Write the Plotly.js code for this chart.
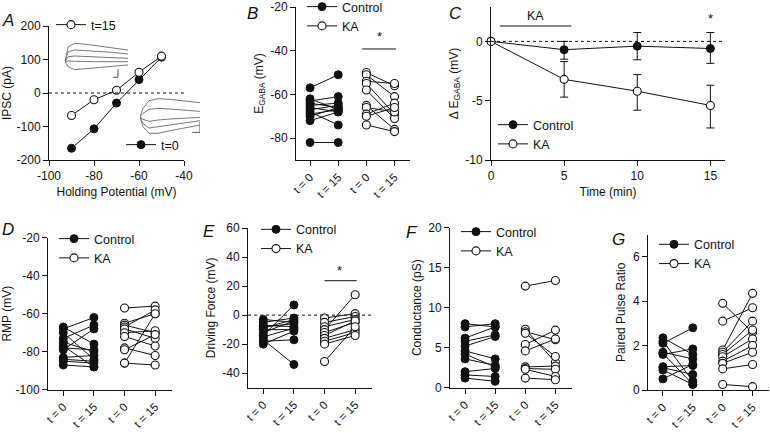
<!DOCTYPE html>
<html><head><meta charset="utf-8">
<script src="https://cdn.plot.ly/plotly-3.0.1.min.js"></script>
<style>html,body{margin:0;padding:0;background:#fff}#chart{width:770px;height:433px}</style>
</head><body><div id="chart"></div>
<script>
// ---------- Panel A: I-V relation ----------
const aHold = [-90, -80, -70, -60, -50];
const aT0 = [-165, -107, -30, 40, 107];
const aT15 = [-67, -20, 8, 62, 110];
// inset traces (arbitrary units: ms, pA)
const insetT = [0, 5, 15, 30, 50, 75, 100];
const insetUp = [
  [0, 45, 55, 53, 48, 42, 35],
  [0, 30, 35, 34, 31, 28, 23],
  [0, 15, 17, 16, 15, 13, 10],
  [0, 2, 1, 0, 0, 0, 0],
  [0, -15, -24, -22, -18, -14, -10]
];
const insetLow = [
  [0, 25, 48, 54, 52, 48, 42],
  [0, 10, 22, 25, 23, 20, 16],
  [0, -8, -14, -10, -7, -4, -2],
  [0, -20, -34, -30, -24, -18, -12],
  [0, -30, -50, -50, -42, -33, -25]
];
const sbUpT = [76, 84, 84], sbUpI = [-47, -47, -23];
const sbLowT = [87, 100, 100], sbLowI = [-47, -47, -15];

// ---------- Category labels ----------
const catPos = [0, 1, 2, 3];
const catLabels = ['t = 0', 't = 15', 't = 0', 't = 15'];

// ---------- Panel B: E_GABA ----------
const bCtrl0 = [-57, -62, -63, -64, -65, -66, -67, -68, -69, -70, -72, -82];
const bCtrl15 = [-51, -67, -61, -66, -64, -68, -65, -74, -67, -66, -68, -82];
const bKA0 = [-50, -51, -54, -55, -58, -65, -66, -69, -70, -74];
const bKA15 = [-56, -61, -55, -69, -71, -76, -68, -64, -66, -77];

// ---------- Panel C: delta E_GABA over time ----------
const cTime = [0, 5, 10, 15];
const cCtrl = [0, -0.7, -0.4, -0.6];
const cCtrlUp = [0, 0.7, 1.15, 1.35];
const cCtrlDn = [0, 0.8, 1.15, 1.25];
const cKA = [0, -3.2, -4.2, -5.4];
const cKAUp = [0, 1.5, 1.4, 1.7];
const cKADn = [0, 1.5, 1.6, 1.9];

// ---------- Panel D: RMP ----------
const dCtrl0 = [-67, -68, -70, -73, -75, -77, -79, -83, -85, -87, -78, -84];
const dCtrl15 = [-76, -62, -84, -66, -80, -88, -68, -82, -86, -88, -79, -85];
const dKA0 = [-57, -65, -66, -67, -68, -70, -72, -78, -79, -86, -86];
const dKA15 = [-56, -60, -70, -58, -73, -69, -77, -82, -71, -60, -87];

// ---------- Panel E: Driving force ----------
const eCtrl0 = [-3, -5, -7, -8, -10, -12, -14, -15, -17, -18, -20, -9];
const eCtrl15 = [-5, -2, -8, -6, -10, -4, 7, -9, -34, -17, -11, -3];
const eKA0 = [-2, -5, -8, -10, -12, -14, -16, -18, -20, -32];
const eKA15 = [1, -1, -3, 14, -5, -4, -10, -12, -14, -8];

// ---------- Panel F: Conductance ----------
const fCtrl0 = [8.0, 7.6, 6.2, 5.8, 5.2, 4.6, 4.2, 3.6, 2.0, 1.6, 1.2];
const fCtrl15 = [7.6, 8.0, 7.6, 6.6, 6.4, 3.6, 2.6, 2.8, 2.4, 1.4, 0.8];
const fKA0 = [12.7, 7.3, 7.0, 6.8, 5.4, 4.6, 2.6, 2.4, 2.3, 1.2];
const fKA15 = [13.4, 3.2, 6.0, 3.9, 7.2, 6.1, 2.7, 2.3, 1.4, 1.0];

// ---------- Panel G: Paired pulse ratio ----------
const gCtrl0 = [2.1, 2.35, 2.2, 1.7, 1.6, 1.05, 0.9, 0.5, 1.0, 1.65];
const gCtrl15 = [2.8, 1.6, 0.4, 1.4, 1.85, 1.1, 0.25, 1.15, 0.7, 0.25];
const gKA0 = [3.9, 3.1, 1.8, 1.7, 1.6, 1.5, 1.3, 1.2, 0.95, 0.25];
const gKA15 = [2.6, 3.7, 4.35, 3.1, 2.7, 2.3, 2.0, 1.7, 1.15, 0.15];

// ---------- helpers ----------
const W = 770, H = 433;
const px = v => v / W;
const py = v => 1 - v / H;
const FONT = 'Arial, "Liberation Sans", sans-serif';
const INK = '#111';

function pairs(a, b, xa, xb) {
  const x = [], y = [];
  for (let i = 0; i < a.length; i++) { x.push(xa, xb, null); y.push(a[i], b[i], null); }
  return {x, y};
}
const filled = {symbol: 'circle', size: 8, color: INK, line: {color: INK, width: 1}};
const open = {symbol: 'circle', size: 8, color: '#fff', line: {color: INK, width: 1.1}};

const traces = [];
function pairedPanel(ax, ctrl0, ctrl15, ka0, ka15, leg) {
  const c = pairs(ctrl0, ctrl15, catPos[0], catPos[1]);
  const k = pairs(ka0, ka15, catPos[2], catPos[3]);
  traces.push({x: c.x, y: c.y, xaxis: 'x' + ax, yaxis: 'y' + ax, mode: 'lines+markers', name: 'Control',
    line: {color: INK, width: 1}, marker: filled, cliponaxis: false, legend: leg, hoverinfo: 'skip'});
  traces.push({x: k.x, y: k.y, xaxis: 'x' + ax, yaxis: 'y' + ax, mode: 'lines+markers', name: 'KA',
    line: {color: INK, width: 1}, marker: open, cliponaxis: false, legend: leg, hoverinfo: 'skip'});
}

// Panel A
traces.push({x: aHold, y: aT0, xaxis: 'x', yaxis: 'y', mode: 'lines+markers', name: 't=0',
  line: {color: INK, width: 1}, marker: filled, cliponaxis: false, legend: 'legend8'});
traces.push({x: aHold, y: aT15, xaxis: 'x', yaxis: 'y', mode: 'lines+markers', name: 't=15',
  line: {color: INK, width: 1}, marker: open, cliponaxis: false, legend: 'legend9'});
insetUp.forEach(tr => traces.push({x: insetT, y: tr, xaxis: 'x8', yaxis: 'y8', mode: 'lines',
  line: {color: '#777', width: 1}, showlegend: false, hoverinfo: 'skip'}));
insetLow.forEach(tr => traces.push({x: insetT, y: tr, xaxis: 'x9', yaxis: 'y9', mode: 'lines',
  line: {color: '#777', width: 1}, showlegend: false, hoverinfo: 'skip'}));
traces.push({x: sbUpT, y: sbUpI, xaxis: 'x8', yaxis: 'y8', mode: 'lines', line: {color: '#555', width: 1}, showlegend: false});
traces.push({x: sbLowT, y: sbLowI, xaxis: 'x9', yaxis: 'y9', mode: 'lines', line: {color: '#555', width: 1}, showlegend: false});

// Panel B
pairedPanel(2, bCtrl0, bCtrl15, bKA0, bKA15, 'legend2');
// Panel C
traces.push({x: cTime, y: cCtrl, xaxis: 'x3', yaxis: 'y3', mode: 'lines+markers', name: 'Control',
  line: {color: INK, width: 1}, marker: filled, cliponaxis: false, legend: 'legend3',
  error_y: {type: 'data', symmetric: false, array: cCtrlUp, arrayminus: cCtrlDn, color: INK, thickness: 1, width: 4}});
traces.push({x: cTime, y: cKA, xaxis: 'x3', yaxis: 'y3', mode: 'lines+markers', name: 'KA',
  line: {color: INK, width: 1}, marker: open, cliponaxis: false, legend: 'legend3',
  error_y: {type: 'data', symmetric: false, array: cKAUp, arrayminus: cKADn, color: INK, thickness: 1, width: 4}});
// Panels D-G
pairedPanel(4, dCtrl0, dCtrl15, dKA0, dKA15, 'legend4');
pairedPanel(5, eCtrl0, eCtrl15, eKA0, eKA15, 'legend5');
pairedPanel(6, fCtrl0, fCtrl15, fKA0, fKA15, 'legend6');
pairedPanel(7, gCtrl0, gCtrl15, gKA0, gKA15, 'legend7');

// ---------- axes ----------
const baseAx = {showline: true, linecolor: INK, linewidth: 1, ticks: 'outside', ticklen: 5, tickwidth: 1,
  tickcolor: INK, showgrid: false, zeroline: false, tickfont: {size: 12, color: INK, family: FONT}, fixedrange: true};
function ax(o) { return Object.assign({}, baseAx, o); }
function negText(vals) { return vals.map(v => String(v)); }
const catX = (dom, anchor) => ax({domain: dom, anchor: anchor, range: [-0.5, 3.55], tickvals: catPos, ticktext: catLabels, tickangle: -45, tickfont: {size: 11.5, color: INK, family: FONT}});
const yTitle = t => ({text: t, font: {size: 12, color: INK, family: FONT}, standoff: 4});

const aYt = [-200, -100, 0, 100, 200], aXt = [-100, -80, -60, -40];
const bYt = [-80, -60, -40, -20];
const cYt = [-10, -5, 0], cXt = [0, 5, 10, 15];
const dYt = [-100, -80, -60, -40, -20];
const eYt = [-40, -20, 0, 20, 40, 60];
const fYt = [0, 5, 10, 15, 20];
const gYt = [0, 2, 4, 6];

const hidden = {visible: false, fixedrange: true};

const layout = {
  width: W, height: H, margin: {l: 0, r: 0, t: 0, b: 0, autoexpand: false}, paper_bgcolor: '#fff', plot_bgcolor: 'rgba(0,0,0,0)',
  font: {family: FONT, size: 12, color: INK}, showlegend: true,
  xaxis: ax({domain: [px(49), px(184)], anchor: 'y', range: [-100, -40], tickvals: aXt, ticktext: negText(aXt),
    title: {text: 'Holding Potential (mV)', font: {size: 12, color: INK}, standoff: 5}}),
  yaxis: ax({domain: [py(160), py(26)], anchor: 'x', range: [-200, 200], tickvals: aYt, ticktext: negText(aYt), title: yTitle('IPSC (pA)')}),
  xaxis2: catX([px(296), px(410)], 'y2'),
  yaxis2: ax({domain: [py(160), py(7)], anchor: 'x2', range: [-90, -20], tickvals: bYt, ticktext: negText(bYt), title: yTitle('E<sub>GABA</sub> (mV)')}),
  xaxis3: ax({domain: [px(491), px(725)], anchor: 'y3', range: [0, 16], tickvals: cXt, ticktext: negText(cXt),
    title: {text: 'Time (min)', font: {size: 12, color: INK}, standoff: 5}}),
  yaxis3: ax({domain: [py(160), py(7)], anchor: 'x3', range: [-10, 2.9], tickvals: cYt, ticktext: negText(cYt), title: yTitle('Δ E<sub>GABA</sub> (mV)')}),
  xaxis4: catX([px(48), px(172)], 'y4'),
  yaxis4: ax({domain: [py(389.7), py(237.7)], anchor: 'x4', range: [-100, -20], tickvals: dYt, ticktext: negText(dYt), title: yTitle('RMP (mV)')}),
  xaxis5: catX([px(248), px(372)], 'y5'),
  yaxis5: ax({domain: [py(387.7), py(228)], anchor: 'x5', range: [-50, 60], tickvals: eYt, ticktext: negText(eYt), title: yTitle('Driving Force (mV)')}),
  xaxis6: catX([px(450), px(572)], 'y6'),
  yaxis6: ax({domain: [py(387.7), py(227.7)], anchor: 'x6', range: [0, 20], tickvals: fYt, ticktext: negText(fYt), title: yTitle('Conductance (pS)')}),
  xaxis7: catX([px(648), px(769)], 'y7'),
  yaxis7: ax({domain: [py(390), py(234.5)], anchor: 'x7', range: [0, 7], tickvals: gYt, ticktext: negText(gYt), title: yTitle('Paired Pulse Ratio')}),
  xaxis8: Object.assign({domain: [px(65), px(128)], anchor: 'y8', range: [0, 100]}, hidden),
  yaxis8: Object.assign({domain: [py(78.3), py(41.7)], anchor: 'x8', range: [-50, 60]}, hidden),
  xaxis9: Object.assign({domain: [px(140), px(200)], anchor: 'y9', range: [0, 100]}, hidden),
  yaxis9: Object.assign({domain: [py(136.7), py(96.7)], anchor: 'x9', range: [-60, 60]}, hidden),
};
const legBase = {bgcolor: 'rgba(0,0,0,0)', borderwidth: 0, font: {size: 12.5, color: INK, family: FONT},
  xanchor: 'left', yanchor: 'top', tracegroupgap: 0, itemclick: false, itemdoubleclick: false};
const leg = (x, y) => Object.assign({}, legBase, {x: px(x), y: py(y)});
layout.legend = leg(0, 0);
layout.legend9 = leg(51, 10);
layout.legend8 = leg(121, 130);
layout.legend2 = leg(302, -8);
layout.legend3 = leg(493, 110);
layout.legend4 = leg(54, 224);
layout.legend5 = leg(256, 214.7);
layout.legend6 = leg(456, 217);
layout.legend7 = leg(654, 229.7);

const dotted = (xr, yr, x0, x1) => ({type: 'line', xref: xr, yref: yr, x0: x0, x1: x1, y0: 0, y1: 0, line: {color: INK, width: 1, dash: 'dot'}});
const bar = (xr, yr, x0, x1, y) => ({type: 'line', xref: xr, yref: yr, x0: x0, x1: x1, y0: y, y1: y, line: {color: INK, width: 1}});
layout.shapes = [
  dotted('x', 'y', -100, -40),
  dotted('x3', 'y3', 0, 16),
  dotted('x5', 'y5', -0.5, 3.55),
  bar('x2', 'y2', 1.85, 3.05, -39.2),
  bar('x5', 'y5', 2.0, 3.05, 23.7),
  bar('x3', 'y3', 0.6, 5.5, 1.3)
];
const letter = (t, x, y) => ({text: t, xref: 'paper', yref: 'paper', x: px(x), y: py(y), showarrow: false,
  font: {size: 17, color: INK, family: FONT}, xanchor: 'center', yanchor: 'middle'});
const txt = (t, xr, yr, x, y, s) => ({text: t, xref: xr, yref: yr, x: x, y: y, showarrow: false,
  font: {size: s, color: INK, family: FONT}, xanchor: 'center', yanchor: 'middle'});
layout.annotations = [
  letter('<i>A</i>', 8, 20), letter('<i>B</i>', 252, 14), letter('<i>C</i>', 455, 14),
  letter('<i>D</i>', 8, 229), letter('<i>E</i>', 209, 231), letter('<i>F</i>', 412, 232), letter('<i>G</i>', 618, 240),
  txt('*', 'x2', 'y2', 2.45, -33.5, 13),
  txt('*', 'x5', 'y5', 2.5, 31, 13),
  txt('*', 'x3', 'y3', 15, 1.9, 13),
  txt('KA', 'x3', 'y3', 3.05, 2.1, 12.5)
];

Plotly.newPlot('chart', traces, layout, {displayModeBar: false, staticPlot: true});
</script></body></html>
